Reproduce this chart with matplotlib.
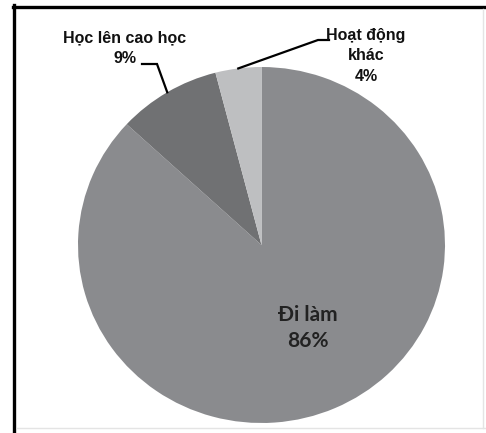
import numpy as np
import matplotlib
matplotlib.use("Agg")
from matplotlib import pyplot as plt
from matplotlib.lines import Line2D

# data
labels = ["Đi làm", "Học lên cao học", "Hoạt động khác"]
values = [86, 9, 4]
colors = ["#8a8b8e", "#707173", "#bebfc1"]

W, H = 486, 433
fig = plt.figure(figsize=(W / 100, H / 100), dpi=100)
fig.patch.set_facecolor("white")

# pie geometry in pixels (slightly wider than tall like the original)
cx, cy, rx, ry = 261.5, 245, 183.5, 178
ax = fig.add_axes([(cx - rx) / W, (H - cy - ry) / H, 2 * rx / W, 2 * ry / H])
wedges, _ = ax.pie(values, colors=colors, startangle=90, counterclock=False,
                   radius=1.0, wedgeprops=dict(linewidth=0))
ax.set_aspect("auto")
ax.set_xlim(-1, 1)
ax.set_ylim(-1, 1)
ax.axis("off")


def px(x, y):
    # figure pixel -> pie data coords
    return (x - cx) / rx, (cy - y) / ry


def mid_edge(w):
    a = np.deg2rad((w.theta1 + w.theta2) / 2)
    return np.cos(a), np.sin(a)


# leader lines
e = mid_edge(wedges[1])
b1, b2 = px(157, 64), px(142, 64)
ax.plot([e[0], b1[0], b2[0]], [e[1], b1[1], b2[1]], color="black", lw=1.6,
        clip_on=False, solid_joinstyle="miter")
e = mid_edge(wedges[2])
b1, b2 = px(318, 40), px(329, 40)
ax.plot([e[0], b1[0], b2[0]], [e[1], b1[1], b2[1]], color="black", lw=1.6,
        clip_on=False, solid_joinstyle="miter")

top_font = dict(family=["Liberation Sans", "DejaVu Sans"], fontweight="bold",
                fontsize=11.5, ha="center", va="center", linespacing=1.45,
                color="#111111")
fig.text(125 / W, 1 - 48 / H, "Học lên cao học\n" + str(values[1]) + "%", **top_font)
fig.text(366 / W, 1 - 56 / H, "Hoạt động\nkhác\n" + str(values[2]) + "%", **top_font)
fig.text(308 / W, 1 - 328 / H, labels[0] + "\n" + str(values[0]) + "%",
         family=["Lato", "DejaVu Sans"], fontweight="bold", fontsize=15,
         ha="center", va="center", linespacing=1.35, color="#222222")

# frame around the chart
fig.add_artist(Line2D([13.5 / W, 13.5 / W], [0, 1 - 5 / H], color="black", lw=2.4,
                      transform=fig.transFigure))
fig.add_artist(Line2D([12.5 / W, 1], [1 - 6.5 / H, 1 - 6.5 / H], color="black", lw=2.4,
                      transform=fig.transFigure))
fig.add_artist(Line2D([17 / W, 1], [1 - 428 / H, 1 - 428 / H], color="#e4e4e4", lw=1,
                      transform=fig.transFigure))
fig.add_artist(Line2D([483 / W, 483 / W], [1 - 428 / H, 1 - 9 / H], color="#e4e4e4", lw=1,
                      transform=fig.transFigure))

fig.savefig("out.png", dpi=100)
